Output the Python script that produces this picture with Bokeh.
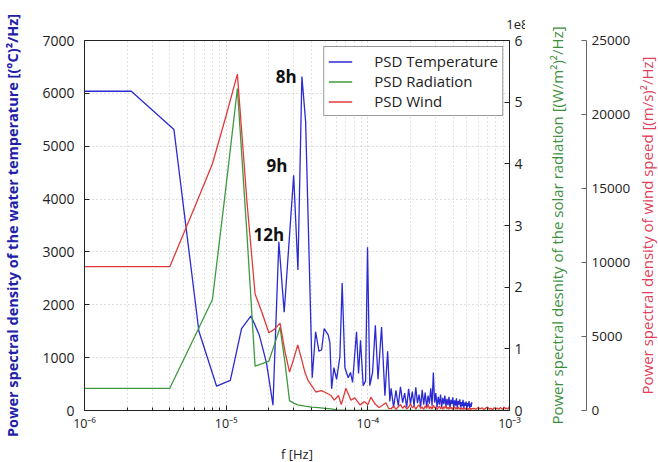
from bokeh.plotting import figure
from bokeh.layouts import row
from bokeh.models import Range1d, LinearAxis, FixedTicker, CustomJSTickFormatter, Title
from bokeh.embed import file_html
from bokeh.resources import INLINE

# ---------------- data ----------------
# Temperature PSD, low/mid frequencies (Hz, (degC)^2/Hz)
temp_f = [1.0e-6, 2.14e-6, 4.28e-6, 6.42e-6, 8.56e-6, 1.07e-5, 1.284e-5, 1.498e-5, 1.712e-5, 1.926e-5,
          2.14e-5, 2.354e-5, 2.568e-5, 2.782e-5, 2.996e-5, 3.21e-5, 3.424e-5, 3.638e-5,
          4.05e-5, 4.28e-5, 4.52e-5, 4.72e-5, 4.92e-5, 5.25e-5, 5.40e-5, 5.55e-5, 5.76e-5, 6.02e-5,
          6.35e-5, 6.59e-5, 6.89e-5, 7.27e-5, 7.55e-5, 7.80e-5, 8.32e-5, 8.60e-5, 8.88e-5, 9.27e-5,
          9.64e-5, 9.95e-5, 1.033e-4, 1.08e-4, 1.13e-4, 1.18e-4, 1.25e-4, 1.32e-4, 1.38e-4, 1.43e-4]
temp_psd = [6040, 6040, 5315, 1500, 460, 570, 1550, 1790, 1430, 900,
            100, 3190, 1860, 3200, 4450, 2660, 6320, 5470,
            620, 1490, 1120, 1150, 1550, 1430, 1280, 410, 810, 590,
            1020, 2410, 810, 620, 720, 530, 1490, 700, 1330, 470,
            560, 3090, 470, 720, 1610, 590, 1580, 280, 1120, 170]

# High-frequency part (micro-Hz), shared by temperature and wind
hf_f_uhz = [146, 152, 158, 164, 170, 176, 182, 188, 194, 200, 206, 212, 218, 224, 230, 236, 242, 248,
            254, 260, 266, 272, 278, 284, 290, 296, 302, 308, 314, 320, 326, 332, 338, 344, 350, 356,
            362, 368, 374, 380, 386, 392, 398, 404, 410, 416, 422, 428, 434, 440, 446, 452, 458, 464,
            470, 476, 482, 488, 494, 500, 506, 512, 518, 524, 530, 536, 542]
temp_hf_psd = [420, 60, 380, 90, 450, 150, 330, 60, 410, 120, 360, 80, 440, 140, 300, 70, 390, 110,
               340, 60, 280, 130, 420, 90, 720, 150, 330, 60, 260, 110, 300, 50, 240, 120, 280, 70,
               220, 100, 260, 50, 200, 120, 250, 60, 190, 90, 230, 50, 180, 110, 210, 60, 160, 80,
               200, 50, 150, 90, 170, 40, 140, 80, 180, 50, 130, 70, 160]

# Radiation PSD ((W/m^2)^2/Hz)
rad_f = [1e-6, 2e-6, 4e-6, 6e-6, 8e-6, 1.0e-5, 1.2e-5, 1.4e-5, 1.6e-5, 1.8e-5, 2.0e-5, 2.2e-5, 2.4e-5,
         2.6e-5, 2.8e-5, 3.0e-5, 3.2e-5, 3.6e-5, 4.0e-5, 4.5e-5, 5.0e-5, 5.5e-5, 6.0e-5, 7.0e-5, 1.0e-3]
rad_psd = [3.6e7, 3.6e7, 3.6e7, 1.2e8, 1.8e8, 3.65e8, 5.22e8, 2.88e8, 7.2e7, 7.6e7, 8.0e7, 1.08e8, 1.35e8,
           7.8e7, 1.6e7, 1.2e7, 9e6, 7e6, 5.5e6, 4.5e6, 3.5e6, 2.5e6, 1.0e6, 5e5, 0]

# Wind PSD ((m/s)^2/Hz)
wind_f = [1e-6, 2e-6, 4e-6, 6e-6, 8e-6, 1.0e-5, 1.2e-5, 1.4e-5, 1.6e-5, 1.8e-5, 2.0e-5, 2.2e-5, 2.4e-5,
          2.6e-5, 2.8e-5, 3.0e-5, 3.2e-5, 3.4e-5, 3.6e-5, 3.8e-5, 4.0e-5, 4.3e-5, 4.7e-5, 5.1e-5, 5.5e-5,
          5.8e-5, 6.2e-5, 6.5e-5, 7.0e-5, 7.6e-5, 8.1e-5, 8.8e-5, 9.5e-5, 1.0e-4, 1.05e-4, 1.13e-4,
          1.2e-4, 1.27e-4, 1.34e-4, 1.4e-4]
wind_psd = [9720, 9720, 9720, 13750, 16670, 19930, 22730, 14170, 7870, 6550, 5250, 5500, 5900,
            4000, 2600, 3500, 4430, 3500, 2560, 2000, 1700, 1250, 1340, 1180, 1010,
            700, 1010, 400, 1500, 700, 850, 380, 600, 380, 900, 420,
            200, 350, 520, 150]
wind_hf_psd = [120, 300, 80, 250, 400, 150, 320, 100, 220, 450, 180, 300, 90, 260, 380, 140, 230, 80,
               300, 150, 420, 120, 260, 90, 350, 180, 240, 70, 200, 300, 120, 220, 80, 260, 150, 330,
               110, 210, 90, 250, 140, 200, 70, 180, 260, 100, 190, 80, 230, 120, 170, 60, 200, 110,
               150, 70, 180, 100, 140, 60, 170, 90, 130, 70, 160, 80, 120]
wind_tail_f_uhz = [560, 580, 600, 620, 640, 660, 680, 700, 720, 740, 760, 780, 800, 820, 840, 860,
                   880, 900, 920, 940, 960, 980, 1000]
wind_tail_psd = [150, 90, 210, 120, 180, 70, 160, 230, 100, 140, 60, 190, 110, 170, 80, 200,
                 130, 90, 220, 120, 160, 100, 300]

# Peak annotations
peak_labels = ["8h", "9h", "12h"]
peak_x = [2.65e-5, 2.28e-5, 2.0e-5]
peak_y = [6315, 4630, 3333]

x_major = [1e-6, 1e-5, 1e-4, 1e-3]
left_ticks = [0, 1000, 2000, 3000, 4000, 5000, 6000, 7000]
rad_ticks = [0, 1e8, 2e8, 3e8, 4e8, 5e8, 6e8]
wind_ticks = [0, 5000, 10000, 15000, 20000, 25000]

# ---------------- styling ----------------
FONT = "Open Sans"
BLUE = "#2a2ad2"
GREEN = "#3f9a3f"
RED = "#e23a3a"
FRAME_H = 370


def style_title(fig, text):
    fig.title.text = text
    fig.title.text_font = FONT
    fig.title.text_font_size = "13px"
    fig.title.text_font_style = "normal"
    fig.title.text_color = "#222222"
    fig.title.vertical_align = "top"
    fig.title.standoff = 20


def bare_side_figure(y_range):
    f = figure(frame_width=1, frame_height=FRAME_H, x_range=Range1d(0, 1), y_range=y_range,
               output_backend="svg", toolbar_location=None, min_border=0)
    f.xaxis.visible = False
    f.xgrid.visible = False
    f.ygrid.visible = False
    f.outline_line_color = None
    f.background_fill_color = None
    f.border_fill_color = None
    style_title(f, "\u00a0")
    # blank strip under the frame so the lowest tick label is not clipped
    f.add_layout(Title(text="\u00a0", standoff=4, text_font=FONT, text_font_size="13px"), "below")
    return f


wind_range = Range1d(0, 25000)

# ---------------- main figure ----------------
p = figure(frame_width=425, frame_height=FRAME_H, x_axis_type="log", x_range=(1e-6, 1e-3),
           y_range=(0, 7000), output_backend="svg", toolbar_location=None, min_border=0)
p.extra_y_ranges = {"rad": Range1d(0, 6e8), "wind": wind_range}
p.outline_line_color = "#222222"
p.background_fill_color = "white"
style_title(p, "1e8")
p.title.align = "right"
p.title.offset = -19

x_minor = [m * d for d in x_major[:-1] for m in range(2, 10)]
p.xaxis.ticker = FixedTicker(ticks=x_major, minor_ticks=x_minor)
p.xaxis.formatter = CustomJSTickFormatter(code="""
const e = Math.round(Math.log10(tick));
const sup = {'-':'\u207b','0':'\u2070','1':'\u00b9','2':'\u00b2','3':'\u00b3','4':'\u2074',
             '5':'\u2075','6':'\u2076','7':'\u2077','8':'\u2078','9':'\u2079'};
return '10' + String(e).split('').map(c => sup[c]).join('');
""")
p.yaxis.ticker = FixedTicker(ticks=left_ticks)
p.yaxis.axis_label = "Power spectral density of the water temperature [(°C)²/Hz]"
p.yaxis.axis_label_text_color = "#2020a8"
p.yaxis.axis_label_text_font_style = "bold"

for ax in (p.xaxis[0], p.yaxis[0]):
    ax.major_label_text_font = FONT
    ax.major_label_text_color = "#222222"
    ax.axis_label_text_font = FONT
    ax.axis_line_color = "#222222"
    ax.major_tick_line_color = "#222222"
    ax.minor_tick_line_color = "#222222"
    ax.major_tick_in = 5
    ax.major_tick_out = 0
    ax.minor_tick_in = 3
    ax.minor_tick_out = 0
p.xaxis.major_label_text_font_size = "12.5px"
p.xaxis.major_label_standoff = 4
p.yaxis.major_label_text_font_size = "14px"
p.yaxis.axis_label_text_font_size = "14.5px"
p.yaxis.major_label_standoff = 10
p.yaxis.axis_label_standoff = 17

# x-axis title as a below-panel title (keeps room under the text)
p.add_layout(Title(text="f [Hz]", align="center", vertical_align="top", standoff=20,
                   text_font=FONT, text_font_size="13px", text_font_style="normal",
                   text_color="#222222"), "below")

p.xgrid.grid_line_color = "#b8b8b8"
p.xgrid.grid_line_dash = "1 3"
p.xgrid.minor_grid_line_color = "#c4c4c4"
p.xgrid.minor_grid_line_dash = "1 3"
p.ygrid.grid_line_color = "#b8b8b8"
p.ygrid.grid_line_dash = "1 3"

# radiation axis (ticks only; its title sits in the next panel)
rad_axis = LinearAxis(y_range_name="rad", ticker=FixedTicker(ticks=rad_ticks),
                      formatter=CustomJSTickFormatter(code="return (tick/1e8).toFixed(0);"))
rad_axis.major_label_text_font = FONT
rad_axis.major_label_text_font_size = "14px"
rad_axis.major_label_text_color = "#222222"
rad_axis.major_tick_in = 5
rad_axis.major_tick_out = 0
rad_axis.minor_tick_line_color = None
rad_axis.major_label_standoff = 5
rad_axis.axis_line_color = "#222222"
rad_axis.major_tick_line_color = "#222222"
p.add_layout(rad_axis, "right")

hf_f = [v * 1e-6 for v in hf_f_uhz]
tail_f = [v * 1e-6 for v in wind_tail_f_uhz]

p.line(temp_f + hf_f, temp_psd + temp_hf_psd, line_color=BLUE, line_width=1.3,
       legend_label="PSD Temperature")
p.line(rad_f, rad_psd, y_range_name="rad", line_color=GREEN, line_width=1.3,
       legend_label="PSD Radiation")
p.line(wind_f + hf_f + tail_f, wind_psd + wind_hf_psd + wind_tail_psd, y_range_name="wind",
       line_color=RED, line_width=1.3, legend_label="PSD Wind")

p.text(x=peak_x, y=peak_y, text=peak_labels, text_font_size="17px", text_font_style="bold",
       text_color="#111111", text_align="center", text_baseline="middle",
       text_font={"value": FONT})

leg = p.legend[0]
leg.location = "top_right"
leg.margin = 6
leg.padding = 4
leg.spacing = 0
leg.label_height = 17
leg.glyph_height = 17
leg.glyph_width = 24
leg.label_standoff = 22
leg.label_text_font = FONT
leg.label_text_font_size = "15px"
leg.label_text_color = "#222222"
leg.border_line_color = "#333333"
leg.border_line_width = 1
leg.background_fill_alpha = 1.0

# ---------------- radiation title + wind axis panel ----------------
pw = bare_side_figure(wind_range)
pw.yaxis.visible = False
pw.add_layout(Title(text="Power spectral desnity of the solar radiation [(W/m²)²/Hz]",
                    align="center", vertical_align="bottom", standoff=38,
                    text_font=FONT, text_font_size="15px", text_font_style="normal",
                    text_color="#3d8f3d"), "left")
wind_axis = LinearAxis(ticker=FixedTicker(ticks=wind_ticks))
wind_axis.major_label_text_font = FONT
wind_axis.major_label_text_font_size = "13.5px"
wind_axis.major_label_text_color = "#222222"
wind_axis.major_tick_in = 5
wind_axis.major_tick_out = 0
wind_axis.minor_tick_line_color = None
wind_axis.major_label_standoff = 5
wind_axis.axis_line_color = "#666666"
wind_axis.major_tick_line_color = "#666666"
pw.add_layout(wind_axis, "right")

# ---------------- wind title panel ----------------
pr = bare_side_figure(wind_range)
ax_r = pr.yaxis[0]
ax_r.ticker = FixedTicker(ticks=[])
ax_r.axis_line_color = None
ax_r.major_tick_line_color = None
ax_r.minor_tick_line_color = None
ax_r.major_label_standoff = 0
ax_r.axis_label = "Power spectral density of wind speed [(m/s)²/Hz]"
ax_r.axis_label_text_font = FONT
ax_r.axis_label_text_font_style = "normal"
ax_r.axis_label_text_font_size = "15px"
ax_r.axis_label_text_color = "#e0405a"
ax_r.axis_label_standoff = 0

layout = row(p, pw, pr, spacing=0)

with open("out.html", "w", encoding="utf-8") as fh:
    fh.write(file_html(layout, INLINE))
